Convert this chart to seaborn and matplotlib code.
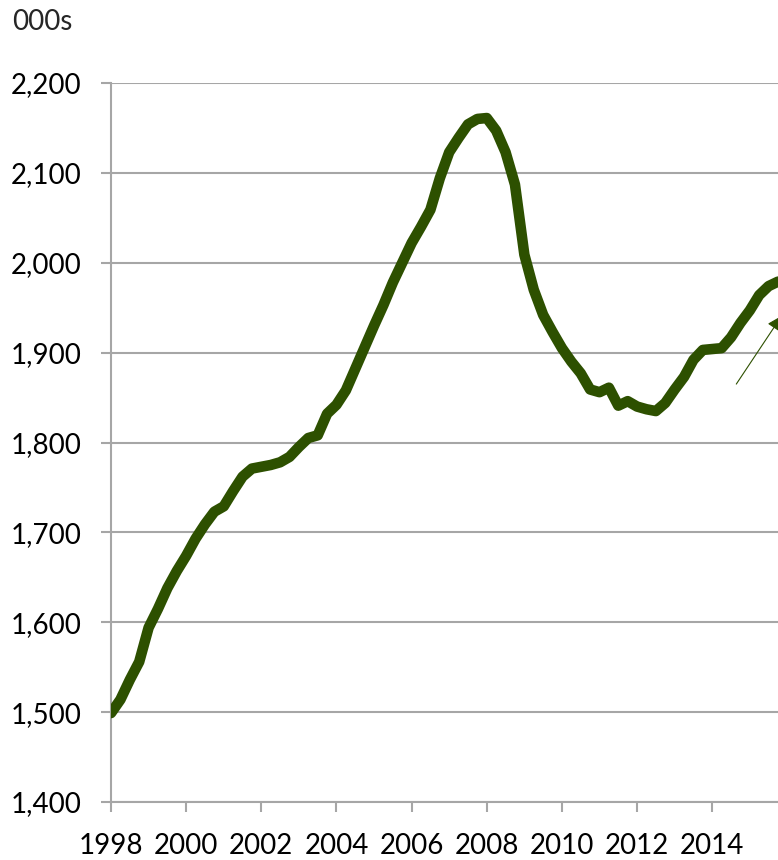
import numpy as np
import pandas as pd
import seaborn as sns
import matplotlib.pyplot as plt

# quarterly series, thousands
quarters = np.arange(1998.0, 2015.76, 0.25)
values = [
    1499, 1514, 1536, 1556, 1594, 1615, 1638, 1657,
    1674, 1693, 1709, 1723, 1729, 1746, 1762, 1771,
    1773, 1775, 1778, 1784, 1795, 1805, 1808, 1832,
    1842, 1858, 1882, 1906, 1930, 1953, 1978, 2000,
    2022, 2040, 2059, 2094, 2123, 2139, 2154, 2160,
    2161, 2147, 2123, 2087, 2009, 1970, 1942, 1923,
    1905, 1890, 1877, 1859, 1856, 1861, 1841, 1846,
    1840, 1837, 1835, 1844, 1859, 1873, 1892, 1903,
    1904, 1905, 1917, 1933, 1947, 1964, 1974, 1979,
]
year_ticks = list(range(1998, 2015, 2))
y_ticks = list(range(1400, 2201, 100))

df = pd.DataFrame({"quarter": quarters, "value": values})

sns.set_style("white")
plt.rcParams["font.family"] = ["Lato", "DejaVu Sans"]

green = "#2d5000"
grey = "#a6a6a6"

fig = plt.figure(figsize=(7.78, 8.6), dpi=100)
ax = fig.add_axes([0.1427, 0.0674, 0.8573, 0.8361])

sns.lineplot(data=df, x="quarter", y="value", ax=ax, color=green,
             linewidth=7.6, solid_joinstyle="round", zorder=3)

ax.set_xlim(1998, 2015.75)
ax.set_ylim(1400, 2200)
ax.set_xticks(year_ticks)
ax.set_xticklabels([str(y) for y in year_ticks])
ax.set_yticks(y_ticks)
ax.set_yticklabels([f"{v:,}" for v in y_ticks])
ax.set_xlabel("")
ax.set_ylabel("")

ax.grid(axis="y", color=grey, linewidth=1.5)
ax.grid(axis="x", visible=False)
for side in ["top", "right"]:
    ax.spines[side].set_visible(False)
for side in ["left", "bottom"]:
    ax.spines[side].set_color(grey)
    ax.spines[side].set_linewidth(1.5)

ax.tick_params(axis="both", which="major", direction="out", length=7,
               width=1.5, color=grey, labelsize=20, labelcolor="black")
ax.tick_params(axis="x", bottom=True, pad=15)
ax.tick_params(axis="y", left=True, pad=14)

# arrow pointing off the right edge
ax.annotate("", xy=(2015.85, 1941), xytext=(2014.64, 1865),
            xycoords="data", annotation_clip=False,
            arrowprops=dict(arrowstyle="-|>,head_length=0.9,head_width=0.45",
                            color=green, linewidth=0.8, shrinkA=0, shrinkB=0))

fig.text(0.015, 0.974, "000s", fontsize=20, va="center", ha="left")

fig.savefig("out.png", dpi=100)
